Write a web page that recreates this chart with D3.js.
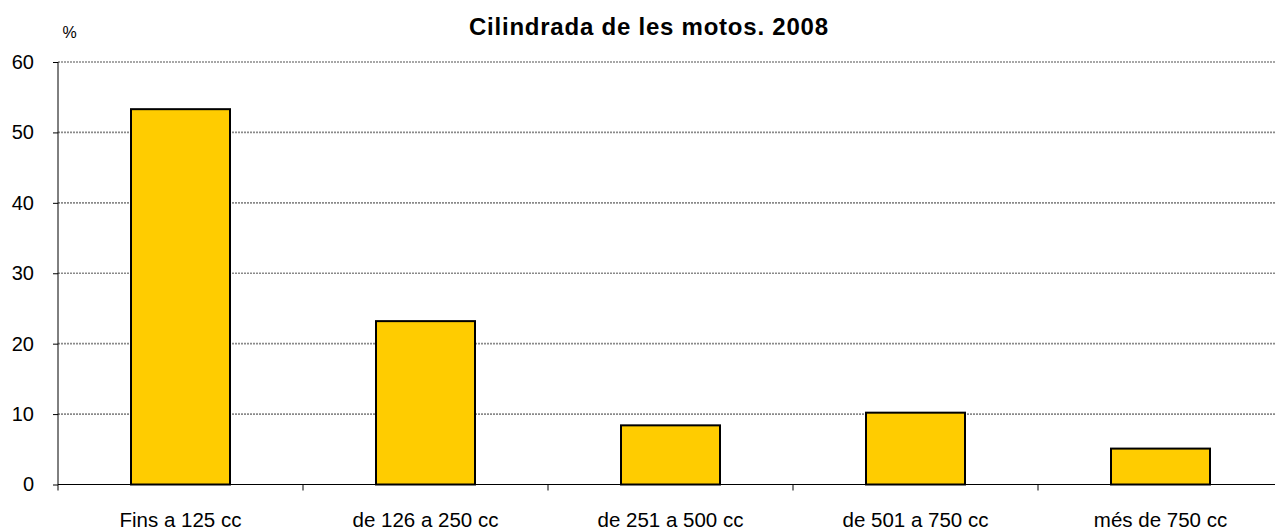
<!DOCTYPE html>
<html><head><meta charset="utf-8">
<script src="https://cdn.jsdelivr.net/npm/d3@7"></script>
<style>body{margin:0;background:#fff}svg{display:block}text{font-family:"Liberation Sans",Arial,sans-serif;fill:#000}</style>
</head><body><svg id="c" width="1275" height="531"></svg>
<script>
const categories = ["Fins a 125 cc","de 126 a 250 cc","de 251 a 500 cc","de 501 a 750 cc","més de 750 cc"];
const values = [53.3, 23.2, 8.4, 10.2, 5.1];
const yTicks = [0,10,20,30,40,50,60];
const title = "Cilindrada de les motos. 2008";
const unit = "%";

(function(){
const svg = d3.select("#c");
const pL = 58, pR = 1283, pT = 62, pB = 484.5;
const xb = d3.scaleBand().domain(categories).range([pL, pR]);
const y = d3.scaleLinear().domain([0,60]).range([pB, pT]);
const FF = '"Liberation Sans",Arial,sans-serif';

// gridlines
svg.append("g").selectAll("line").data(yTicks.filter(d=>d>0)).join("line")
  .attr("x1", pL).attr("x2", 1275).attr("y1", d=>y(d)).attr("y2", d=>y(d))
  .attr("stroke", "#8a8a8a").attr("stroke-width", 1.6).attr("stroke-dasharray", "2,1");

// bars
svg.append("g").selectAll("rect").data(values).join("rect")
  .attr("x", (d,i)=>xb(categories[i]) + xb.bandwidth()/2 - 49.5)
  .attr("width", 99)
  .attr("y", d=>y(d)).attr("height", d=>pB - y(d))
  .attr("fill", "#ffcc00").attr("stroke", "#000").attr("stroke-width", 2);

// y axis
const ya = svg.append("g").attr("transform", `translate(${pL},0)`)
  .call(d3.axisLeft(y).tickValues(yTicks).tickSize(5).tickPadding(6));
ya.select(".domain").attr("d", `M0,${pT}V${pB}`).attr("stroke","#000");
ya.selectAll("text").attr("font-size", 20).attr("font-family", FF).attr("dx", -13);
ya.selectAll(".tick line").attr("stroke","#000");

// x axis
const xa = svg.append("g").attr("transform", `translate(0,${pB})`)
  .call(d3.axisBottom(xb).tickSize(0).tickPadding(28));
xa.select(".domain").remove();
xa.selectAll("text").attr("font-size", 20.5).attr("font-family", FF);
svg.append("line").attr("x1", pL).attr("x2", 1275).attr("y1", pB).attr("y2", pB).attr("stroke", "#000");
svg.append("g").selectAll("line").data(categories).join("line")
  .attr("x1", d=>xb(d)).attr("x2", d=>xb(d)).attr("y1", pB).attr("y2", pB+6).attr("stroke","#000");

svg.append("text").attr("x", 648.5).attr("y", 35).attr("text-anchor","middle")
  .attr("font-size", 24).attr("font-weight","bold")
  .attr("textLength", 359).attr("lengthAdjust","spacing").text(title);
svg.append("text").attr("x", 69.5).attr("y", 38).attr("text-anchor","middle").attr("font-size", 16).text(unit);
})();
</script></body></html>
